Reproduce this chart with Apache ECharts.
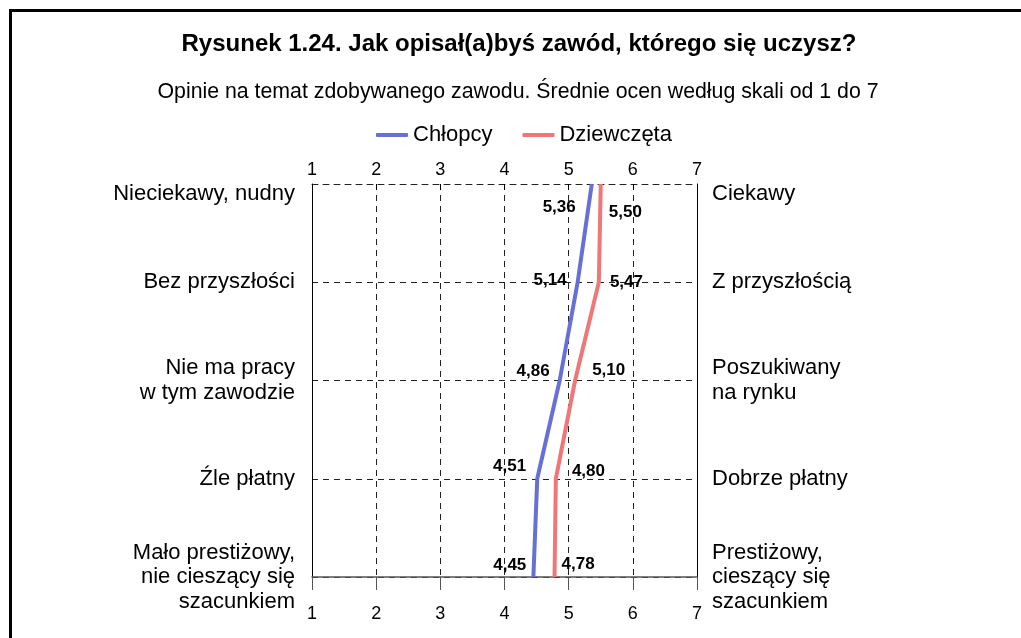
<!DOCTYPE html>
<html>
<head>
<meta charset="utf-8">
<script src="https://cdn.jsdelivr.net/npm/echarts@6/dist/echarts.min.js"></script>
<style>
  html, body { margin: 0; padding: 0; background: #fff; }
  #chart { width: 1021px; height: 638px; }
</style>
</head>
<body>
<div id="chart"></div>
<script>
  /******************/
  //region    //data

  let leftLabels = ['Nieciekawy, nudny', 'Bez przyszłości', 'Nie ma pracy\nw tym zawodzie', 'Źle płatny', 'Mało prestiżowy,\nnie cieszący się\nszacunkiem'];
  let rightLabels = ['Ciekawy', 'Z przyszłością', 'Poszukiwany\nna rynku', 'Dobrze płatny', 'Prestiżowy,\ncieszący się\nszacunkiem'];
  let chlopcy = [5.36, 5.14, 4.86, 4.51, 4.45];
  let dziewczeta = [5.50, 5.47, 5.10, 4.80, 4.78];
  let scaleTicks = [1, 2, 3, 4, 5, 6, 7];

  //endregion

  /******************/
  //region    //layout

  const FONT = '"Liberation Sans", Arial, sans-serif';
  // label nudges (px) so values sit like in the original
  let boysNudge = [[-16, 23], [-11, -2], [-10, -9], [-11, -12], [-7, -12]];
  let girlsNudge = [[8, 28], [11, 0], [17, -10], [16, -7], [7, -13]];

  //endregion

  let chart = echarts.init(document.getElementById('chart'));

  function fmt(v) {
    return v.toFixed(2).replace('.', ',');
  }

  function catLabel(value, idx) {
    return idx === 0 ? '{first|' + value + '}' : value;
  }

  function buildData(values, nudge, pos) {
    return values.map((v, i) => ({
      value: [v, i],
      label: {position: pos, distance: 0, offset: nudge[i]}
    }));
  }

  let catAxis = (labels, position) => ({
    type: 'category',
    position: position,
    data: labels,
    inverse: true,
    boundaryGap: false,
    axisLine: {show: true, lineStyle: {color: '#000', width: 1}},
    axisTick: {show: false},
    splitLine: position === 'left' ? {
      show: true,
      lineStyle: {color: '#222', type: [6, 5], width: 1}
    } : {show: false},
    axisLabel: {
      margin: position === 'left' ? 17 : 15,
      fontFamily: FONT,
      fontSize: 22,
      lineHeight: 24.5,
      color: '#000',
      align: position === 'left' ? 'right' : 'left',
      formatter: catLabel,
      rich: {
        first: {fontFamily: FONT, fontSize: 22, color: '#000', padding: [20, 0, 0, 0]}
      }
    }
  });

  let valAxis = (position) => ({
    type: 'value',
    position: position,
    min: scaleTicks[0],
    max: scaleTicks[scaleTicks.length - 1],
    interval: 1,
    axisLine: {
      show: true,
      lineStyle: position === 'top' ? {color: '#222', type: [6, 5], width: 1} : {color: '#555', width: 1.5}
    },
    axisTick: position === 'top'
      ? {show: true, inside: true, length: 6, lineStyle: {color: '#000'}}
      : {show: true, inside: false, length: 13, lineStyle: {color: '#555'}},
    splitLine: position === 'top' ? {
      show: true,
      lineStyle: {color: '#222', type: [6, 5], width: 1}
    } : {show: false},
    axisLabel: {
      margin: position === 'top' ? 5 : 28,
      fontFamily: FONT,
      fontSize: 18,
      color: '#000',
      formatter: (v) => String(v)
    }
  });

  let valueLabel = {
    show: true,
    fontFamily: FONT,
    fontSize: 17,
    fontWeight: 'bold',
    color: '#000',
    formatter: (p) => fmt(p.value[0])
  };

  let option = {
    backgroundColor: '#fff',
    animation: false,
    textStyle: {fontFamily: FONT},
    graphic: [
      {
        type: 'rect',
        shape: {x: 10.5, y: 10.5, width: 2000, height: 2000},
        style: {fill: 'none', stroke: '#000', lineWidth: 3},
        silent: true
      },
      {
        type: 'text',
        x: 519, y: 44,
        style: {
          text: 'Rysunek 1.24. Jak opisał(a)byś zawód, którego się uczysz?',
          font: 'bold 24px ' + FONT,
          fill: '#000',
          textAlign: 'center',
          textVerticalAlign: 'middle'
        }
      },
      {
        type: 'text',
        x: 518, y: 92,
        style: {
          text: 'Opinie na temat zdobywanego zawodu. Średnie ocen według skali od 1 do 7',
          font: '21.3px ' + FONT,
          fill: '#000',
          textAlign: 'center',
          textVerticalAlign: 'middle'
        }
      }
    ],
    legend: {
      left: 371,
      top: 119,
      itemWidth: 32,
      itemHeight: 4,
      itemGap: 30,
      icon: 'roundRect',
      textStyle: {fontFamily: FONT, fontSize: 22, color: '#000'},
      data: ['Chłopcy', 'Dziewczęta']
    },
    grid: {
      left: 312,
      right: 324,
      top: 184,
      bottom: 61,
      containLabel: false
    },
    xAxis: [valAxis('top'), valAxis('bottom')],
    yAxis: [catAxis(leftLabels, 'left'), catAxis(rightLabels, 'right')],
    series: [
      {
        name: 'Chłopcy',
        type: 'line',
        xAxisIndex: 0,
        yAxisIndex: 0,
        data: buildData(chlopcy, boysNudge, 'left'),
        symbol: 'circle',
        symbolSize: 0.1,
        showSymbol: true,
        lineStyle: {color: '#6670d6', width: 4},
        itemStyle: {color: '#6670d6'},
        label: valueLabel,
        z: 3
      },
      {
        name: 'Dziewczęta',
        type: 'line',
        xAxisIndex: 0,
        yAxisIndex: 0,
        data: buildData(dziewczeta, girlsNudge, 'right'),
        symbol: 'circle',
        symbolSize: 0.1,
        showSymbol: true,
        lineStyle: {color: '#ef7777', width: 4},
        itemStyle: {color: '#ef7777'},
        label: valueLabel,
        z: 3
      }
    ]
  };

  chart.setOption(option);
</script>
</body>
</html>
